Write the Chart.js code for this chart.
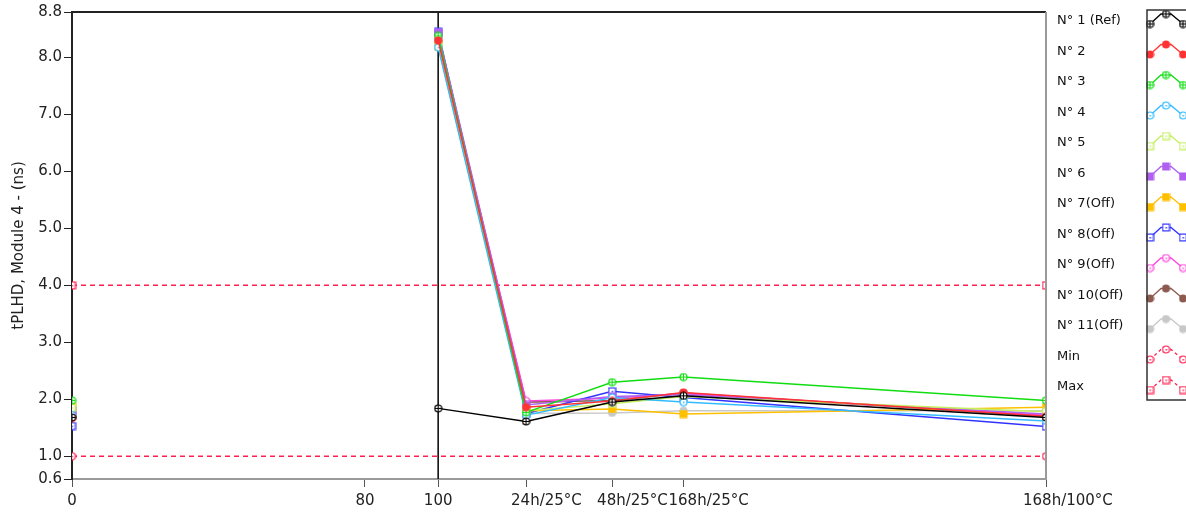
<!DOCTYPE html>
<html>
<head>
<meta charset="utf-8">
<title>tPLHD, Module 4</title>
<script src="https://cdn.jsdelivr.net/npm/chart.js"></script>
<style>
  body { margin: 0; background: #fff; }
  #chart { display: block; }
</style>
</head>
<body>
<canvas id="chart" width="1186" height="513"></canvas>
<script>

// x positions of the measurement steps (0 and 100 are plain numbers, the rest are test stages)
const xPositions = [0, 100, 124, 147.5, 167, 266];
const xTickValues = [0, 80, 100, 124, 147.5, 167, 266];
const xTickLabels = ['0', '80', '100', '24h/25°C', '48h/25°C', '168h/25°C', '168h/100°C'];
const yTickValues = [0.6, 1, 2, 3, 4, 5, 6, 7, 8, 8.8];

const seriesNames = ['N° 1 (Ref)', 'N° 2', 'N° 3', 'N° 4', 'N° 5', 'N° 6', 'N° 7(Off)',
                     'N° 8(Off)', 'N° 9(Off)', 'N° 10(Off)', 'N° 11(Off)'];
const n1 = [1.68, 1.84, 1.61, 1.95, 2.06, 1.68];
const n2 = [1.67, 8.30, 1.86, 1.97, 2.12, 1.70];
const n3 = [1.98, 8.38, 1.77, 2.30, 2.39, 1.98];
const n4 = [1.72, 8.18, 1.72, 2.03, 1.95, 1.62];
const n5 = [1.85, 8.25, 1.80, 1.92, 2.05, 1.78];
const n6 = [1.81, 8.44, 1.90, 2.05, 2.08, 1.74];
const n7 = [1.88, 8.20, 1.80, 1.83, 1.74, 1.86];
const n8 = [1.53, 8.45, 1.75, 2.14, 2.03, 1.52];
const n9 = [1.75, 8.35, 1.97, 2.02, 2.10, 1.72];
const n10 = [1.70, 8.28, 1.95, 1.98, 2.11, 1.70];
const n11 = [1.78, 8.22, 1.75, 1.76, 1.80, 1.80];
const seriesValues = [n1, n2, n3, n4, n5, n6, n7, n8, n9, n10, n11];

// limit lines
const limitX = [0, 266];
const minLimit = [1.0, 1.0];
const maxLimit = [4.0, 4.0];

// cursor at x = 100
const cursorX = [100, 100];
const cursorY = [0.6, 8.8];

const colors = ['#000000', '#ff3333', '#11dd11', '#33bbff', '#c4f060', '#b060f0',
                '#ffc000', '#3333ff', '#ff44dd', '#8c5a50', '#c8c8c8'];
const markers = ['ringPlus', 'dot', 'ringPlus', 'ring', 'box', 'fillBox',
                 'fillBox', 'box', 'ring', 'dot', 'dot'];
const limitColor = '#ff2050';

function makeMarker(kind, color) {
  const c = document.createElement('canvas');
  c.width = 9; c.height = 9;
  const g = c.getContext('2d');
  g.strokeStyle = color;
  g.fillStyle = color;
  g.lineWidth = 1.2;
  if (kind == 'dot') {
    g.beginPath(); g.arc(4.5, 4.5, 4, 0, Math.PI * 2); g.fill();
  } else if (kind == 'ring' || kind == 'ringPlus') {
    g.fillStyle = '#fff';
    g.beginPath(); g.arc(4.5, 4.5, 3.5, 0, Math.PI * 2); g.fill(); g.stroke();
    g.fillStyle = color;
    if (kind == 'ringPlus') {
      g.beginPath(); g.moveTo(1, 4.5); g.lineTo(8, 4.5); g.moveTo(4.5, 1); g.lineTo(4.5, 8); g.stroke();
    } else {
      g.fillRect(4, 4, 1.5, 1.5);
    }
  } else if (kind == 'box') {
    g.fillStyle = '#fff';
    g.fillRect(1, 1, 7, 7);
    g.strokeRect(1.1, 1.1, 6.8, 6.8);
    g.fillStyle = color;
    g.fillRect(4, 4, 1.5, 1.5);
  } else if (kind == 'fillBox') {
    g.fillRect(0.5, 0.5, 8, 8);
  }
  return c;
}

function toPoints(xs, ys, gapAfterFirst) {
  const pts = [];
  for (let i = 0; i < xs.length; i++) {
    pts.push({x: xs[i], y: ys[i]});
    if (gapAfterFirst && i == 0) pts.push({x: (xs[0] + xs[1]) / 2, y: null});
  }
  return pts;
}

const datasets = [];
for (let i = 0; i < seriesValues.length; i++) {
  datasets.push({
    label: seriesNames[i],
    data: toPoints(xPositions, seriesValues[i], true),
    borderColor: colors[i],
    backgroundColor: colors[i],
    borderWidth: 1.5,
    pointStyle: makeMarker(markers[i], colors[i]),
    pointRadius: 4,
    spanGaps: false
  });
}
datasets.push({
  label: 'Min',
  data: toPoints(limitX, minLimit, false),
  borderColor: limitColor,
  backgroundColor: limitColor,
  borderWidth: 1.5,
  borderDash: [5, 4],
  pointStyle: makeMarker('ring', limitColor),
  dashedLegend: true
});
datasets.push({
  label: 'Max',
  data: toPoints(limitX, maxLimit, false),
  borderColor: limitColor,
  backgroundColor: limitColor,
  borderWidth: 1.5,
  borderDash: [5, 4],
  pointStyle: makeMarker('box', limitColor),
  dashedLegend: true
});
datasets.push({
  label: 'cursor',
  data: toPoints(cursorX, cursorY, false),
  borderColor: '#111',
  borderWidth: 1.6,
  pointRadius: 0,
  noLegend: true
});

const fontFamily = '"DejaVu Sans"';

// frame lines on top and right, x labels, and the legend on the right side
const framePlugin = {
  id: 'frame',
  afterDraw(chart) {
    const ctx = chart.ctx;
    const a = chart.chartArea;
    ctx.save();
    ctx.lineWidth = 2;
    ctx.strokeStyle = '#222';
    ctx.beginPath(); ctx.moveTo(a.left, a.top); ctx.lineTo(a.right, a.top); ctx.stroke();
    ctx.strokeStyle = '#9a9a9a';
    ctx.beginPath(); ctx.moveTo(a.right, a.top); ctx.lineTo(a.right, a.bottom); ctx.stroke();

    // x labels: numbers are centred, stage labels hang to the right of their tick
    const xs = chart.scales.x;
    ctx.font = '15px ' + fontFamily;
    ctx.fillStyle = '#222';
    ctx.textBaseline = 'middle';
    xTickValues.forEach((v, i) => {
      const px = xs.getPixelForValue(v);
      const txt = xTickLabels[i];
      if (txt.indexOf('/') < 0) {
        ctx.textAlign = 'center';
        ctx.fillText(txt, px, a.bottom + 22);
      } else {
        ctx.textAlign = 'left';
        const shift = i == xTickValues.length - 1 ? 23 : 15;
        ctx.fillText(txt, px - shift, a.bottom + 22);
      }
    });

    // legend
    const textX = 1057, boxLeft = 1147, rowTop = 21, rowStep = 30.5;
    ctx.font = '13px ' + fontFamily;
    ctx.textAlign = 'left';
    ctx.fillStyle = '#111';
    let row = 0;
    chart.data.datasets.forEach(ds => {
      if (ds.noLegend) return;
      const cy = rowTop + row * rowStep;
      ctx.fillText(ds.label, textX, cy);
      const px = [boxLeft + 3, boxLeft + 19, boxLeft + 36];
      const py = [cy + 3, cy - 7, cy + 3];
      ctx.strokeStyle = ds.borderColor;
      ctx.lineWidth = 1.3;
      ctx.setLineDash(ds.dashedLegend ? [3, 3] : []);
      ctx.beginPath();
      ctx.moveTo(px[0], py[0]);
      ctx.lineTo(px[1] - 5, py[1]);
      ctx.lineTo(px[1] + 5, py[1]);
      ctx.lineTo(px[2], py[2]);
      ctx.stroke();
      ctx.setLineDash([]);
      for (let k = 0; k < 3; k++) {
        ctx.drawImage(ds.pointStyle, px[k] - 4.5, py[k] - 4.5);
      }
      row++;
    });
    ctx.strokeStyle = '#333';
    ctx.lineWidth = 1.5;
    ctx.beginPath();
    ctx.moveTo(1200, 10); ctx.lineTo(boxLeft, 10); ctx.lineTo(boxLeft, 400); ctx.lineTo(1200, 400);
    ctx.stroke();
    ctx.restore();
  }
};

const tickFont = {family: fontFamily, size: 15};

const config = {
  type: 'line',
  data: {datasets},
  options: {
    responsive: false,
    animation: false,
    layout: {padding: {top: 12, right: 140, left: 0, bottom: 0}},
    plugins: {legend: {display: false}, tooltip: {enabled: false}},
    scales: {
      x: {
        type: 'linear',
        min: 0,
        max: 266,
        afterBuildTicks: s => { s.ticks = xTickValues.map(v => ({value: v})); },
        afterFit: s => { s.height = 34; },
        ticks: {display: false, autoSkip: false, maxRotation: 0},
        grid: {drawOnChartArea: false, tickLength: 8, color: '#555'},
        border: {color: '#9a9a9a', width: 2}
      },
      y: {
        type: 'linear',
        min: 0.6,
        max: 8.8,
        afterBuildTicks: s => { s.ticks = yTickValues.map(v => ({value: v})); },
        afterFit: s => { s.width = 72; },
        ticks: {
          padding: 2,
          color: '#222',
          font: tickFont,
          callback: v => v.toFixed(1)
        },
        grid: {drawOnChartArea: false, tickLength: 8, color: '#222'},
        border: {color: '#222', width: 2},
        title: {
          display: true,
          text: 'tPLHD, Module 4 - (ns)',
          color: '#222',
          font: {family: fontFamily, size: 15},
          padding: {top: 10, bottom: 0}
        }
      }
    }
  },
  plugins: [framePlugin]
};

var myChart = new Chart(document.getElementById('chart'), config);
</script>
</body>
</html>
